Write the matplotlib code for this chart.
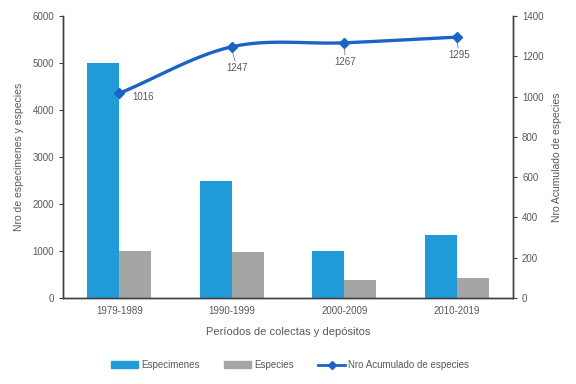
import numpy as np
import matplotlib
matplotlib.use("Agg")
import matplotlib.pyplot as plt
from matplotlib.lines import Line2D
from matplotlib.patches import Patch

plt.rcParams['font.family'] = ['Liberation Sans', 'DejaVu Sans']

periods = ["1979-1989", "1990-1999", "2000-2009", "2010-2019"]
especimenes = [5000, 2500, 990, 1350]
especies = [1010, 970, 380, 430]
acumulado = [1016, 1247, 1267, 1295]

blue = "#1F9BD7"
gray = "#A5A5A5"
line_c = "#1B63C6"
txt = "#595959"
axc = "#404040"

fig = plt.figure(figsize=(5.76, 3.84), dpi=100)
ax = fig.add_axes([63/576, 1-298/384, (513-63)/576, (298-16)/384])
ax2 = ax.twinx()

x = np.arange(len(periods))
w = 0.285
ax.bar(x - w/2, especimenes, w, color=blue, label="Especimenes")
ax.bar(x + w/2, especies, w, color=gray, label="Especies")
ax.set_xlim(-0.5, len(periods) - 0.5)
ax.set_ylim(0, 6000)
ax.set_yticks(range(0, 6001, 1000))
ax.set_xticks(x)
ax.set_xticklabels(periods)

# smooth curve through data points (Catmull-Rom)
pts = np.array(list(zip(x, acumulado)), dtype=float)
P = np.vstack([pts[0] - (pts[1] - pts[0]), pts, pts[-1] + (pts[-1] - pts[-2])])
cx, cy = [], []
for i in range(1, len(P) - 2):
    p0, p1, p2, p3 = P[i-1], P[i], P[i+1], P[i+2]
    t = np.linspace(0, 1, 40)[:, None]
    c = 0.5 * ((2*p1) + (-p0 + p2)*t + (2*p0 - 5*p1 + 4*p2 - p3)*t**2 + (-p0 + 3*p1 - 3*p2 + p3)*t**3)
    cx.extend(c[:, 0]); cy.extend(c[:, 1])
ax2.plot(cx, cy, color=line_c, lw=2.4, zorder=3)
ax2.plot(x, acumulado, linestyle="none", marker="D", ms=5, color=line_c, zorder=4)
ax2.set_ylim(0, 1400)
ax2.set_yticks(range(0, 1401, 200))

# data labels
offsets = [(0.12, -20, "left", False), (0.05, -105, "center", True),
           (0.01, -95, "center", True), (0.02, -89, "center", True)]
for xi, v, (dx, dy, ha, lead) in zip(x, acumulado, offsets):
    ty = v + dy
    ax2.text(xi + dx, ty, str(v), ha=ha, va="center", fontsize=7, color=txt)
    if lead:
        ax2.plot([xi, xi + dx*0.6], [v - 15, ty + 35], color="#7F7F7F", lw=0.6)

for a in (ax, ax2):
    a.spines['top'].set_visible(False)
    for s in ('left', 'right', 'bottom'):
        a.spines[s].set_color(axc)
        a.spines[s].set_linewidth(1.0)
    a.tick_params(labelsize=7, colors=txt, length=3, width=0.8)
ax.tick_params(axis='x', length=0, pad=6)
ax.tick_params(axis='y', color=axc)
ax2.tick_params(axis='y', color=axc)

ax.set_ylabel("Nro de especimenes y especies", fontsize=7.5, color=txt, labelpad=6)
ax2.set_ylabel("Nro Acumulado de especies", fontsize=7.5, color=txt, labelpad=6)
ax.set_xlabel("Períodos de colectas y depósitos", fontsize=8, color=txt, labelpad=8)

handles = [Patch(color=blue), Patch(color=gray),
           Line2D([0], [0], color=line_c, lw=2, marker="D", ms=4)]
labels = ["Especimenes", "Especies", "Nro Acumulado de especies"]
fig.legend(handles, labels, loc="center", bbox_to_anchor=(290/576, 1-365/384), ncol=3,
           frameon=False, fontsize=7, labelcolor=txt, handlelength=2.8, handleheight=0.6,
           columnspacing=2.5, handletextpad=0.3)

fig.savefig("out.png", dpi=100)
